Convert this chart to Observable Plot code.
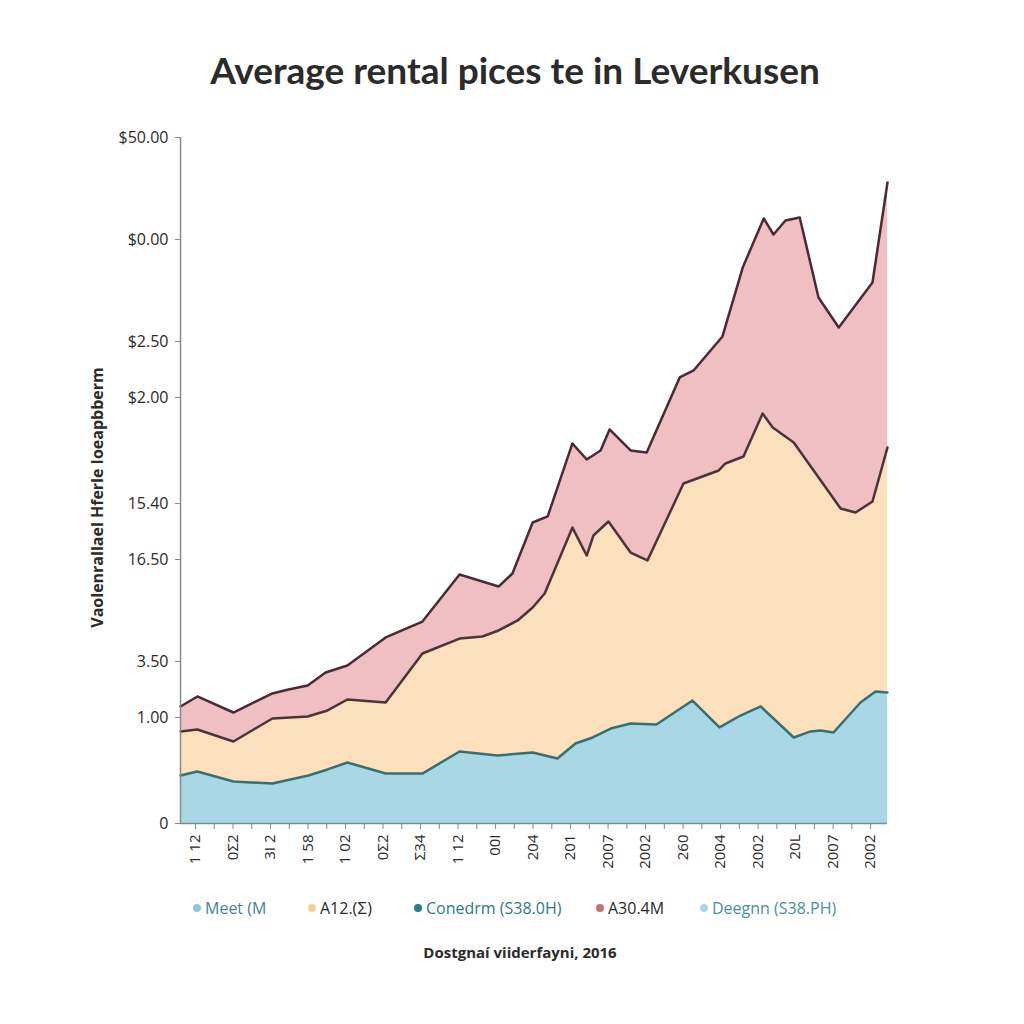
<!DOCTYPE html>
<html><head><meta charset="utf-8">
<script src="https://cdn.jsdelivr.net/npm/d3@7"></script>
<script src="https://cdn.jsdelivr.net/npm/@observablehq/plot@0.6"></script>
<style>
body{margin:0;background:#fff;width:1024px;height:1024px;position:relative;overflow:hidden;font-family:"Open Sans",sans-serif;}
#title{position:absolute;top:49px;left:0;width:1030px;text-align:center;font-family:Lato,sans-serif;font-weight:700;font-size:37px;line-height:42px;color:#2b2b2b;}
#chart{position:absolute;top:100px;left:0;}
.leg{position:absolute;top:897px;font-size:16px;line-height:22px;white-space:nowrap;display:flex;align-items:center;}
.dot{width:8px;height:8px;border-radius:50%;margin-right:4px;}
#caption{position:absolute;top:940px;left:0;width:1040px;text-align:center;font-weight:700;font-size:15px;line-height:24px;color:#2b2b2b;}
</style></head>
<body>
<div id="title"></div>
<div id="chart"></div>
<div id="legend"></div>
<div id="caption"></div>
<script>
const titleText = "Average rental pices te in Leverkusen";
const yAxisLabel = "Vaolenrallael Hferle Ioeapbberm";
const captionText = "Dostgnaí viiderfayni, 2016";

const xLabels = ["1 12","0Σ2","3I 2","1 58","1 02","0Σ2","Σ34","1 12","00I","204","201","2007","2002","260","2004","2002","20L","2007","2002"];
const yTickPos = [0, 7.73, 11.81, 19.24, 23.32, 31.05, 35.13, 42.57, 50];
const yTickLabels = ["0","1.00","3.50","16.50","15.40","$2.00","$2.50","$0.00","$50.00"];

// top boundary (pink series)
const topX = [-0.4,0.05,1.01,2.05,2.48,2.99,3.47,4.05,5.07,6.05,7.04,8.08,8.45,8.99,9.39,10.05,10.43,10.80,11.04,11.60,12.03,12.91,13.28,14.05,14.59,15.15,15.41,15.73,16.11,16.61,17.15,18.05,18.45];
const topV = [8.53,9.26,8.09,9.48,9.77,10.06,11.01,11.52,13.56,14.72,18.15,17.27,18.22,21.94,22.38,27.70,26.53,27.19,28.72,27.19,27.04,32.51,33.02,35.50,40.52,44.10,42.93,43.95,44.17,38.34,36.15,39.43,46.72];
// middle boundary (peach series)
const midX = [-0.4,0.05,1.01,2.05,2.99,3.52,4.05,5.07,6.05,7.04,7.65,8.08,8.59,8.99,9.31,10.05,10.43,10.61,11.01,11.60,12.05,13.01,13.95,14.13,14.61,15.12,15.39,15.95,17.20,17.60,18.05,18.45];
const midV = [6.71,6.85,5.98,7.65,7.80,8.24,9.04,8.82,12.39,13.48,13.63,14.07,14.80,15.74,16.76,21.57,19.53,20.99,22.01,19.75,19.17,24.78,25.73,26.24,26.75,29.88,28.86,27.77,22.96,22.67,23.47,27.41];
// bottom boundary (blue series)
const botX = [-0.4,0.05,1.01,2.05,3.01,3.52,4.05,5.07,6.05,7.04,8.05,8.99,9.65,10.13,10.59,11.07,11.60,12.29,13.25,13.97,14.53,15.07,15.95,16.40,16.67,17.01,17.73,18.13,18.45];
const botV = [3.50,3.79,3.06,2.92,3.50,3.94,4.45,3.64,3.64,5.25,4.96,5.17,4.74,5.83,6.27,6.92,7.29,7.22,8.96,7.00,7.87,8.53,6.27,6.71,6.78,6.63,8.82,9.62,9.55];

const legendLabels = ["Meet (M","A12.(Ʃ)","Conedrm (S38.0H)","A30.4M","Deegnn (S38.PH)"];
const legendDots = ["#93c5d8","#f8cc9f","#2b7d87","#c2737b","#add6e2"];
const legendTextColors = ["#4b7f96","#2b2b2b","#2d7a85","#2b2b2b","#4a8da3"];
const legendLeft = [193,308,414,596,700];

const toRows = (xs, vs) => xs.map((x, i) => ({x, v: vs[i]}));
const topData = toRows(topX, topV), midData = toRows(midX, midV), botData = toRows(botX, botV);
const xDomain = [-0.4, 18.45];
const xTicks = d3.range(0, 18.5, 0.5);

document.getElementById("title").textContent = titleText;
document.getElementById("caption").textContent = captionText;

const chart = Plot.plot({
  width: 1024, height: 783,
  marginLeft: 180, marginRight: 137, marginTop: 37, marginBottom: 60,
  x: {domain: xDomain},
  y: {domain: [0, 50]},
  style: {fontFamily: "Open Sans", background: "transparent", color: "#2b2b2b"},
  marks: [
    Plot.areaY(topData, {x: "x", y: "v", fill: "#efbfc2"}),
    Plot.areaY(midData, {x: "x", y: "v", fill: "#fcdfbc"}),
    Plot.areaY(botData, {x: "x", y: "v", fill: "#a9d7e6"}),
    Plot.lineY(botData, {x: "x", y: "v", stroke: "#2f7277", strokeWidth: 2.5}),
    Plot.lineY(midData, {x: "x", y: "v", stroke: "#4a3438", strokeWidth: 2.5}),
    Plot.lineY(topData, {x: "x", y: "v", stroke: "#4b2a35", strokeWidth: 2.5}),
    Plot.ruleX([xDomain[0]], {stroke: "#8a8a8a", strokeWidth: 1.5}),
    Plot.ruleY([0], {stroke: "#8a8a8a", strokeWidth: 1.5}),
    Plot.axisY({ticks: yTickPos, tickFormat: d => yTickLabels[yTickPos.indexOf(d)], tickSize: 5, tickPadding: 7, fontSize: 16, stroke: "#888", label: null}),
    Plot.axisX({ticks: xTicks, tickFormat: d => Number.isInteger(d) ? xLabels[d] : "", tickRotate: -90, tickSize: 6, tickPadding: 5, fontSize: 15, stroke: "#888", label: null}),
    Plot.text([yAxisLabel], {frameAnchor: "left", textAnchor: "middle", rotate: -90, dx: -83, dy: 17, fontWeight: "bold", fontSize: 16, fill: "#2b2b2b"})
  ]
});
document.getElementById("chart").appendChild(chart);

const legend = document.getElementById("legend");
legendLabels.forEach((lab, i) => {
  const item = document.createElement("div");
  item.className = "leg";
  item.style.left = legendLeft[i] + "px";
  item.style.color = legendTextColors[i];
  const dot = document.createElement("span");
  dot.className = "dot";
  dot.style.background = legendDots[i];
  item.appendChild(dot);
  const t = document.createElement("span");
  t.textContent = lab;
  item.appendChild(t);
  legend.appendChild(item);
});
</script>
</body></html>
